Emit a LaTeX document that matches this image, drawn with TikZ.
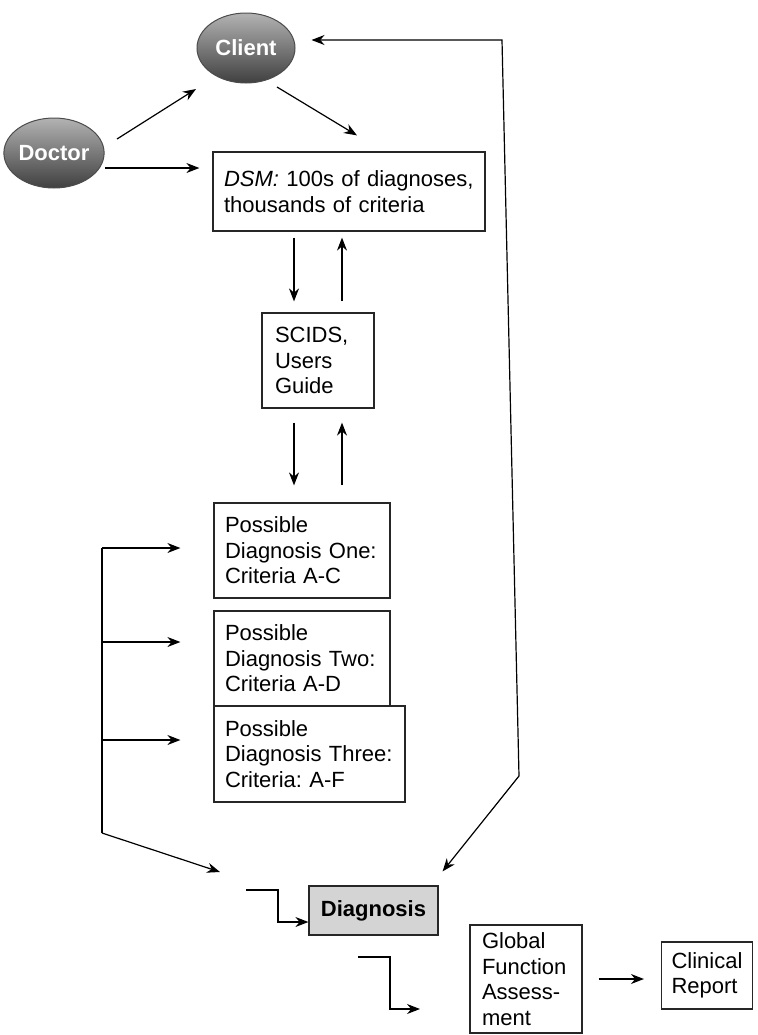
\documentclass[tikz,border=0pt]{standalone}
\usepackage{fontspec}
\setmainfont{Liberation Sans}
\usetikzlibrary{arrows.meta,calc,shapes.geometric}

\tikzset{
  lbl/.style={font=\fontsize{11}{12.75}\selectfont},
  box/.style={lbl, draw=black!85, line width=0.6pt, align=left, inner ysep=2pt},
  blob/.style={ellipse, draw=black!70, line width=0.5pt, top color=black!30, bottom color=black!75,
    text=white, font=\fontsize{11}{12.75}\selectfont\bfseries,
    minimum width=49pt, minimum height=35pt, inner sep=0pt},
  tip/.style={line width=0.6pt, -{Stealth[length=6.5pt,width=5pt]}},
  twotip/.style={line width=0.6pt, {Stealth[length=6.5pt,width=5pt]}-{Stealth[length=6.5pt,width=5pt]}},
}

\begin{document}
\frenchspacing
\begin{tikzpicture}[x=0.5pt,y=0.5pt]
  %%%%% START %%%%%
  \useasboundingbox (0,0) rectangle (757,-1035);

  \node[blob] (client) at (246,-48) {Client};
  \node[blob] (doctor) at (54,-153) {Doctor};

  \node[box, text width=125pt, inner xsep=5.5pt, minimum height=39.5pt] (dsm) at (349,-191.5)
    {\textit{DSM:} 100s of diagnoses,\\thousands of criteria};
  \node[box, text width=43pt, inner xsep=6.5pt, minimum height=47.5pt] (scids) at (318,-360.5)
    {SCIDS,\\Users\\Guide};
  \node[box, text width=77pt, inner xsep=5.5pt, minimum height=47.5pt] (pd1) at (302,-550.5)
    {Possible\\Diagnosis One:\\Criteria A-C};
  \node[box, text width=77pt, inner xsep=5.5pt, minimum height=47.5pt] (pd2) at (302,-658.5)
    {Possible\\Diagnosis Two:\\Criteria A-D};
  \node[box, text width=84.5pt, inner xsep=5.5pt, minimum height=48pt] (pd3) at (309.5,-754)
    {Possible\\Diagnosis Three:\\Criteria: A-F};
  \node[box, fill=black!17, font=\fontsize{11}{12.75}\selectfont\bfseries, align=center,
    minimum width=64.5pt, minimum height=24.5pt] (diag) at (373.5,-910.5) {Diagnosis};
  \node[box, text width=44pt, inner xsep=6pt, minimum height=54pt] (gfa) at (526,-979)
    {Global\\Function\\Assess-\\ment};
  \node[box, inner xsep=5pt, minimum height=33.5pt] (report) at (707,-975.5) {Clinical\\Report};

  % doctor and client to the manual
  \draw[tip] ($(doctor)+(63,14)$) -- ($(client)+(-50,-41)$);
  \draw[tip] ($(client)+(31,-39)$) -- ($(dsm.north)+(8,16)$);
  \draw[tip] ($(doctor)+(51,-15)$) -- ($(dsm.west)+(-13,23.5)$);

  % up and down through the guide
  \foreach \a/\b/\s/\e in {dsm/scids/6/11, scids/pd1/14/17}{
    \draw[tip] ($(scids.north |- \a.south)+(-24,-\s)$) -- ($(scids.north |- \b.north)+(-24,\e)$);
    \draw[tip] ($(scids.north |- \b.north)+(24,\e)$) -- ($(scids.north |- \a.south)+(24,-\s)$);
  }

  % rail on the left
  \draw[line width=0.6pt] (102,-548) -- (102,-833) coordinate (railfoot);
  \foreach \n/\y in {pd1/548, pd2/642, pd3/740}
    \draw[tip] (102,-\y) -- ($(\n.west |- 0,-\y)+(-33,0)$);
  \coordinate (railtip) at (220,-872);
  \draw[tip] (railfoot) -- (railtip);

  % back to the client
  \draw[twotip] ($(client.east)+(16,8)$) -- (502,-40) -- (519,-776) -- ($(diag.north east)+(4,14)$);

  % into diagnosis and assessment
  \coordinate (in1) at (246,-890);
  \draw[tip] (in1) -- ++(32,0) |- ($(diag.west)+(0,-11.5)$);
  \coordinate (in2) at (358,-957);
  \draw[tip] (in2) -- ++(32,0) |- ++(30,-52);
  \draw[tip] ($(gfa.east)+(16,0)$) -- ($(gfa.east -| report.west)+(-17,0)$);
  %%%%% END %%%%%
\end{tikzpicture}
\end{document}
